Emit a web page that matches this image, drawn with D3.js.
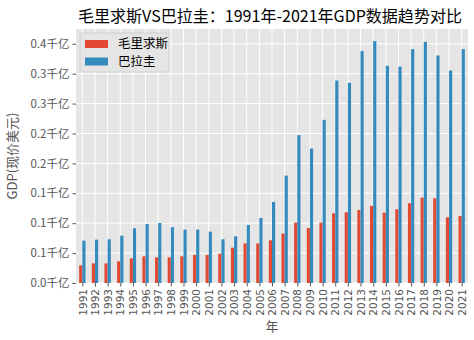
<!DOCTYPE html>
<html><head><meta charset="utf-8">
<script src="https://cdn.jsdelivr.net/npm/d3@7"></script>
<style>body{margin:0;background:#fff}svg{display:block}text{font-family:"Noto Sans CJK SC","DejaVu Sans",sans-serif}</style>
</head><body><svg id="c" width="474" height="340"></svg>
<script>
const years = ["1991","1992","1993","1994","1995","1996","1997","1998","1999","2000","2001","2002","2003","2004","2005","2006","2007","2008","2009","2010","2011","2012","2013","2014","2015","2016","2017","2018","2019","2020","2021"];
// GDP in billions USD
const mauritius = [2.96,3.29,3.28,3.63,4.13,4.46,4.29,4.29,4.46,4.69,4.69,4.91,5.91,6.64,6.61,7.14,8.26,10.09,9.20,10.09,11.66,11.83,12.22,12.89,11.77,12.33,13.34,14.28,14.17,11.00,11.21];
const paraguay = [7.08,7.25,7.31,7.92,9.15,9.87,10.04,9.32,8.93,8.93,8.59,7.31,7.81,9.71,10.88,13.56,17.96,24.72,22.48,27.28,33.86,33.47,38.78,40.45,36.32,36.20,39.11,40.33,38.04,35.53,39.11];
const seriesNames = ["毛里求斯","巴拉圭"];
const colors = ["#E24A33","#348ABD"];
const yTicks = [0,5,10,15,20,25,30,35,40];
const yTickLabels = ["0.0千亿","0.1千亿","0.1千亿","0.1千亿","0.2千亿","0.2千亿","0.3千亿","0.3千亿","0.4千亿"];

const svg = d3.select("#c");
const L = 76, R = 468, T = 29, B = 283;
const maxV = d3.max(paraguay.concat(mauritius));
const x = d3.scaleLinear().domain([-0.5, years.length - 0.5]).range([L, R]);
const y = d3.scaleLinear().domain([0, maxV * 1.05]).range([B, T]);

svg.append("rect").attr("x", L).attr("y", T).attr("width", R - L).attr("height", B - T).attr("fill", "#E5E5E5");
// grid
svg.append("g").selectAll("line").data(yTicks).join("line")
  .attr("x1", L).attr("x2", R).attr("y1", d => y(d)).attr("y2", d => y(d))
  .attr("stroke", "#fff").attr("stroke-width", 1);
svg.append("g").selectAll("line").data(years).join("line")
  .attr("y1", T).attr("y2", B).attr("x1", (d, i) => x(i)).attr("x2", (d, i) => x(i))
  .attr("stroke", "#fff").attr("stroke-width", 1);

const bw = 0.25;
[mauritius, paraguay].forEach((arr, s) => {
  svg.append("g").selectAll("rect").data(arr).join("rect")
    .attr("x", (d, i) => x(i - bw + s * bw))
    .attr("width", x(bw) - x(0))
    .attr("y", d => y(d))
    .attr("height", d => B - y(d))
    .attr("fill", colors[s]);
});

// y axis
const ya = svg.append("g").attr("transform", `translate(${L},0)`)
  .call(d3.axisLeft(y).tickValues(yTicks).tickFormat((d, i) => yTickLabels[i]).tickSize(3.5).tickPadding(3));
ya.select(".domain").remove();
ya.selectAll("line").attr("stroke", "#555");
ya.selectAll("text").attr("fill", "#555").attr("font-size", 11.5).style("font-family", '"Noto Sans CJK SC",sans-serif');

// x axis
const xa = svg.append("g").attr("transform", `translate(0,${B})`)
  .call(d3.axisBottom(x).tickValues(d3.range(years.length)).tickFormat(i => years[i]).tickSize(3.5).tickPadding(3));
xa.select(".domain").remove();
xa.selectAll("line").attr("stroke", "#555");
xa.selectAll("text").attr("fill", "#555").attr("font-size", 10.5)
  .style("font-family", '"DejaVu Sans",sans-serif')
  .attr("transform", "rotate(-90)").attr("text-anchor", "end").attr("dy", "0.35em").attr("x", -6).attr("y", 0);

// titles
svg.append("text").attr("x", 270).attr("y", 22).attr("text-anchor", "middle")
  .attr("font-size", 16).attr("fill", "#000").attr("textLength", 384).attr("lengthAdjust", "spacingAndGlyphs")
  .text("毛里求斯VS巴拉圭：1991年-2021年GDP数据趋势对比");
svg.append("text").attr("x", (L + R) / 2).attr("y", 331).attr("text-anchor", "middle")
  .attr("font-size", 13).attr("fill", "#555").text("年");
svg.append("text").attr("transform", `translate(17,${(T + B) / 2}) rotate(-90)`).attr("text-anchor", "middle")
  .attr("font-size", 13).attr("fill", "#555").text("GDP(现价美元)");

// legend
const lg = svg.append("g");
lg.append("rect").attr("x", 80).attr("y", 33).attr("width", 89).attr("height", 39).attr("rx", 2)
  .attr("fill", "#E5E5E5").attr("stroke", "#CCCCCC").attr("stroke-width", 0.8);
seriesNames.forEach((n, i) => {
  lg.append("rect").attr("x", 85).attr("y", 40 + i * 17.5).attr("width", 23).attr("height", 8).attr("fill", colors[i]);
  lg.append("text").attr("x", 118).attr("y", 44 + i * 17.5).attr("dy", "0.35em").attr("font-size", 12.5).attr("fill", "#000").text(n);
});
</script></body></html>
